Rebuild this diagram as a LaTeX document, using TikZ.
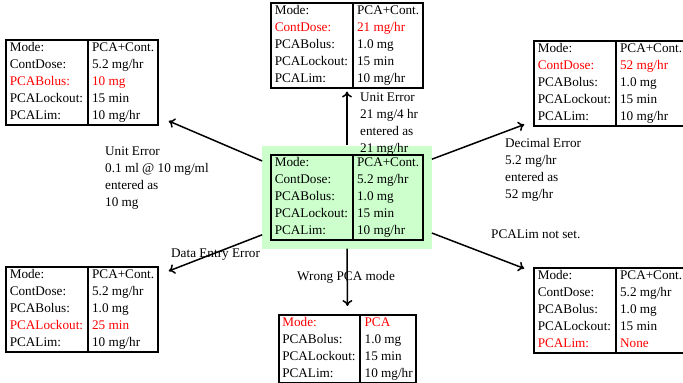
\documentclass[tikz,border=0pt]{standalone}
\usepackage{fontspec}
\setmainfont{Liberation Serif}
\usepackage{array,xcolor}
\definecolor{pumpgreen}{RGB}{204,255,204}
\usetikzlibrary{arrows.meta,positioning,calc,fit,backgrounds}
\newcommand{\errtxt}[1]{\textcolor{red}{#1}}
\newcommand{\pumptab}[1]{%
  \begin{tabular}{@{\hspace{3.5pt}}l@{\hspace{3.5pt}}!{\vrule width 2pt}@{\hspace{3.5pt}}l@{\hspace{3.5pt}}}#1\end{tabular}}

\begin{document}
\begin{tikzpicture}[x=1pt,y=-1pt,
  pumpbox/.style={draw,line width=2pt,inner sep=0pt,font=\fontsize{13.2}{17}\selectfont},
  note/.style={anchor=base west,align=left,inner sep=0pt,font=\fontsize{13.2}{17}\selectfont},
  arr/.style={-{To[length=6pt,width=10pt]},line width=1.5pt}]
  \useasboundingbox (0,0) rectangle (683,383);

  %% Pump settings as programmed
  \node[pumpbox] (basetab) at (347,197)
        {\pumptab{Mode: & PCA+Cont.\\ ContDose: & 5.2 mg/hr\\ PCABolus: & 1.0 mg\\
                  PCALockout: & 15 min\\ PCALim: & 10 mg/hr}};
  \begin{scope}[on background layer]
    \node[fit=(basetab),inner sep=8pt,fill=pumpgreen] (base) {};
  \end{scope}

  %% Unit error on bolus
  \node[pumpbox] (tl) at (82,82.5)
        {\pumptab{Mode: & PCA+Cont.\\ ContDose: & 5.2 mg/hr\\ \errtxt{PCABolus:} & \errtxt{10 mg}\\
                  PCALockout: & 15 min\\ PCALim: & 10 mg/hr}};
  %% Unit error on continuous dose
  \node[pumpbox] (top) at (347,45)
        {\pumptab{Mode: & PCA+Cont.\\ \errtxt{ContDose:} & \errtxt{21 mg/hr}\\ PCABolus: & 1.0 mg\\
                  PCALockout: & 15 min\\ PCALim: & 10 mg/hr}};
  %% Decimal error
  \node[pumpbox] (tr) at (610,83)
        {\pumptab{Mode: & PCA+Cont.\\ \errtxt{ContDose:} & \errtxt{52 mg/hr}\\ PCABolus: & 1.0 mg\\
                  PCALockout: & 15 min\\ PCALim: & 10 mg/hr}};
  %% Data entry error
  \node[pumpbox] (bl) at (82,309.5)
        {\pumptab{Mode: & PCA+Cont.\\ ContDose: & 5.2 mg/hr\\ PCABolus: & 1.0 mg\\
                  \errtxt{PCALockout:} & \errtxt{25 min}\\ PCALim: & 10 mg/hr}};
  %% Wrong mode
  \node[pumpbox] (bot) at (347.5,349)
        {\pumptab{\errtxt{Mode:} & \errtxt{PCA}\\ PCABolus: & 1.0 mg\\
                  PCALockout: & 15 min\\ PCALim: & 10 mg/hr}};
  %% Limit missing
  \node[pumpbox] (br) at (610,310)
        {\pumptab{Mode: & PCA+Cont.\\ ContDose: & 5.2 mg/hr\\ PCABolus: & 1.0 mg\\
                  PCALockout: & 15 min\\ \errtxt{PCALim:} & \errtxt{None}}};

  %% Arrows
  \draw[arr] (base.157) -- ($(tl.south east)+(10,-5)$);
  \draw[arr,shorten >=3pt] (base.north) -- (top.south);
  \draw[arr] (base.24) -- ($(tr.south west)+(-9,-2)$);
  \draw[arr] (base.204) -- ($(bl.north east)+(10,5)$);
  \draw[arr,shorten >=8pt] (base.south) -- (bot.north);
  \draw[arr] (base.-23) -- ($(br.north west)+(-9,2)$);

  %% Labels (base = last line)
  \node[note] (lbltl) at (105,206) {Unit Error\\ 0.1 ml @ 10 mg/ml\\ entered as\\ 10 mg};
  \node[note] (lbltop) at (360,152) {Unit Error\\ 21 mg/4 hr\\ entered as\\ 21 mg/hr};
  \node[note] (lbltr) at (505,198) {Decimal Error\\ 5.2 mg/hr\\ entered as\\ 52 mg/hr};
  \node[note] (lblbl) at (171,257) {Data Entry Error};
  \node[note] (lblbot) at (297,280) {Wrong PCA mode};
  \node[note] (lblbr) at (491,238) {PCALim not set.};
\end{tikzpicture}
\end{document}
